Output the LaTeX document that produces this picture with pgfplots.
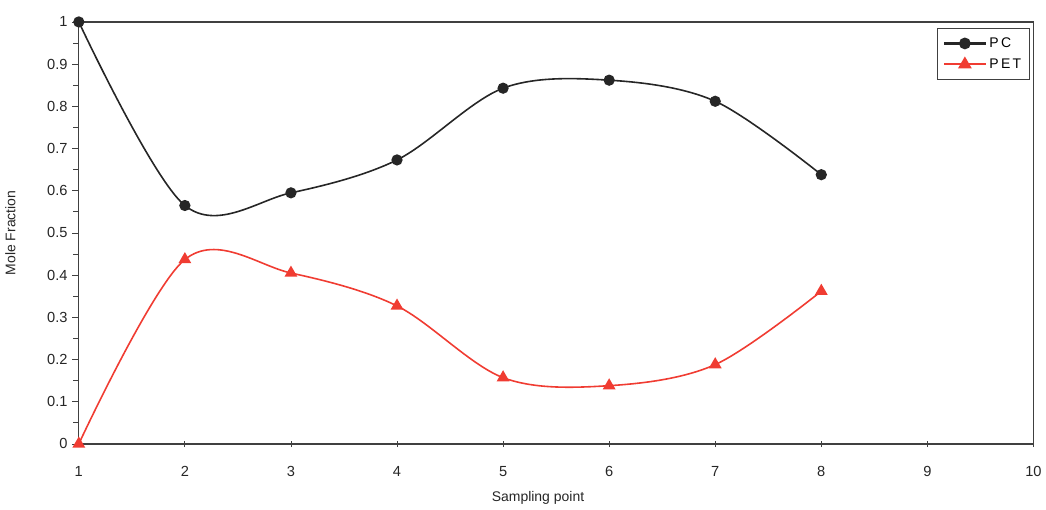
\documentclass[border=0pt]{standalone}
\usepackage{pgfplots}
\pgfplotsset{compat=1.18}
\usepackage{fontspec}
\setmainfont{Liberation Sans}
\usetikzlibrary{calc}
\definecolor{axgray}{HTML}{404040}
\definecolor{petred}{HTML}{F03C32}
\begin{document}
\begin{tikzpicture}
\begin{axis}[
  scale only axis,
  width=717.75pt, height=317.25pt,
  xmin=1, xmax=10, ymin=0, ymax=1,
  xtick={1,...,10},
  ytick={0,0.1,...,1.0},
  yticklabels={0,0.1,0.2,0.3,0.4,0.5,0.6,0.7,0.8,0.9,1},
  minor y tick num=1,
  xtick pos=bottom, ytick pos=left,
  ytick align=outside,
  xtick align=center,
  major tick length=5pt,
  minor tick length=4pt,
  axis line style={axgray, line width=1pt},
  every tick/.style={axgray, line width=0.6pt},
  tick label style={font=\fontsize{11}{12}\selectfont, text=black!85},
  /pgf/number format/assume math mode=true,
  xticklabel style={yshift=-11pt},
  xlabel={Sampling point},
  ylabel={Mole Fraction},
  label style={font=\fontsize{10.5}{12}\selectfont, text=black!85},
  xlabel style={at={(axis description cs:0.481,0)}, anchor=north, yshift=-32pt},
  ylabel style={at={(axis description cs:0,0.5)}, anchor=south, xshift=0pt, yshift=44pt},
  legend style={at={(axis description cs:0.996,0.986)}, anchor=north east,
    draw=axgray, line width=0.6pt, font=\fontsize{10.5}{12}\selectfont,
    row sep=3pt, inner xsep=4pt, inner ysep=5pt},
  legend cell align=left,
  legend image code/.code={
    \draw[#1, line width=1.6pt, mark repeat=2, mark phase=2] plot coordinates {(0cm,0cm) (0.55cm,0cm) (1.1cm,0cm)};
  },
  clip=false,
]
\addplot[black!85, line width=1.2pt, smooth, tension=0.55, mark=*, mark size=3.6pt,
  mark options={fill=black!85}]
  coordinates {(1,1) (2,0.565) (3,0.595) (4,0.673) (5,0.843) (6,0.862) (7,0.812) (8,0.638)};
\addlegendentry{P\,C}
\addplot[petred, line width=1.2pt, smooth, tension=0.55, mark=triangle*, mark size=4.4pt,
  mark options={fill=petred}]
  coordinates {(1,0) (2,0.437) (3,0.405) (4,0.327) (5,0.157) (6,0.138) (7,0.188) (8,0.362)};
\addlegendentry{P\,E\,T}
\end{axis}
\path (current axis.south west) ++(-59.25pt,-49.5pt) coordinate (bl);
\path (current axis.north east) ++(7.5pt,16.5pt) coordinate (tr);
\path[use as bounding box] (bl) rectangle (tr);
\end{tikzpicture}
\end{document}
